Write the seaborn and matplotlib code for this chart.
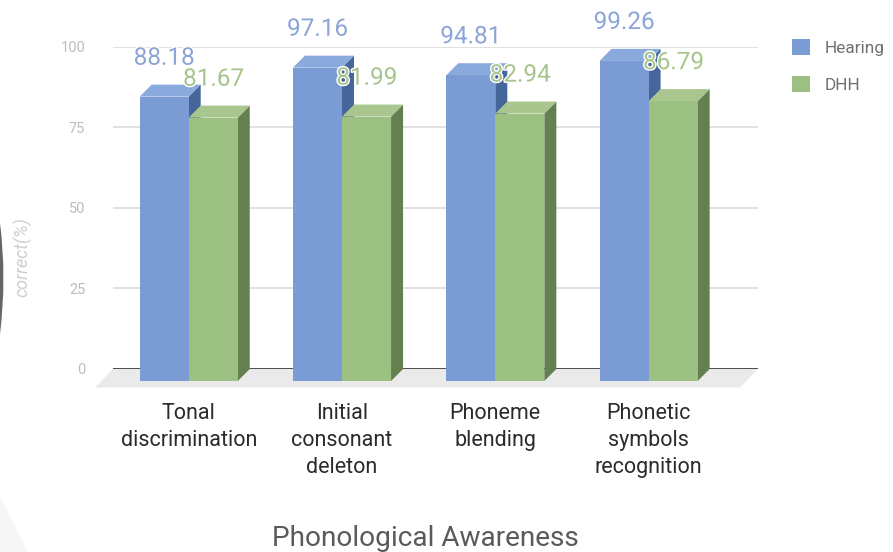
import matplotlib
matplotlib.use("Agg")
import matplotlib.pyplot as plt
import matplotlib.patheffects as pe
from matplotlib.patches import Polygon, Patch, PathPatch
from matplotlib.path import Path
from matplotlib.transforms import Affine2D
import pandas as pd
import seaborn as sns

categories = ["Tonal\ndiscrimination", "Initial\nconsonant\ndeleton",
              "Phoneme\nblending", "Phonetic\nsymbols\nrecognition"]
hearing = [88.18, 97.16, 94.81, 99.26]
dhh = [81.67, 81.99, 82.94, 86.79]
y_ticks = [0, 25, 50, 75, 100]
group_names = ["Hearing", "DHH"]
front_colors = ["#7A9BD3", "#9CC081"]
side_colors = ["#46659B", "#647F50"]
top_colors = ["#8AA9DC", "#A9C68F"]
label_colors = ["#8CA4D6", "#A6C48C"]

W, H = 893, 552
sns.set_theme(style="white")
plt.rcParams["font.family"] = ["Roboto", "DejaVu Sans"]

fig = plt.figure(figsize=(W / 100, H / 100), dpi=100, facecolor="white")
left, right, top, zero = 113, 758, 46.5, 369
ax = fig.add_axes([left / W, 1 - zero / H, (right - left) / W, (zero - top) / H])
ax.patch.set_alpha(0)

df = pd.DataFrame({
    "category": categories * 2,
    "group": [group_names[0]] * 4 + [group_names[1]] * 4,
    "value": hearing + dhh,
})
sns.barplot(data=df, x="category", y="value", hue="group", hue_order=group_names,
            palette=front_colors, width=0.64, gap=0, saturation=1, legend=False,
            edgecolor="none", linewidth=0, ax=ax, zorder=3)

spacing = 153.3
ax.set_xlim((left - 200.7) / spacing, (right - 200.7) / spacing)
ax.set_ylim(0, 100)

# Extrusion depth of the pseudo-3D bars, expressed in data units
px_x = spacing
px_y = (zero - top) / 100
depth_x = 12 / px_x
depth_y = 12 / px_y
shift = Affine2D().translate(-depth_x, -depth_y) + ax.transData

# Floor slab under the bars
ax.add_patch(Polygon([(ax.get_xlim()[0], 0), (ax.get_xlim()[1], 0),
                      (ax.get_xlim()[1] - 18 / px_x, -18.5 / px_y),
                      (ax.get_xlim()[0] - 18 / px_x, -18.5 / px_y)],
                     closed=True, fc="#EAEAEA", ec="none", clip_on=False, zorder=1))

n = len(categories)
for i, bar in enumerate(ax.patches[:2 * n]):
    g = i // n
    x0, w, h = bar.get_x(), bar.get_width(), bar.get_height()
    x1 = x0 + w
    # Slide the front face forward, then add the side and top faces behind it
    bar.set_transform(shift)
    bar.set_clip_on(False)
    bar.set_zorder(5 + g * 2 + 0.5)
    ax.add_patch(Polygon([(x1, 0), (x1, h), (x1 - depth_x, h - depth_y),
                          (x1 - depth_x, -depth_y)],
                         closed=True, fc=side_colors[g], ec="none",
                         clip_on=False, zorder=5 + g * 2))
    ax.add_patch(Polygon([(x0, h), (x1, h), (x1 - depth_x, h - depth_y),
                          (x0 - depth_x, h - depth_y)],
                         closed=True, fc=top_colors[g], ec="none",
                         clip_on=False, zorder=5 + g * 2))

# Value labels, placed above each bar
label_shift = [-8.6, -8.4]
for g, values in enumerate([hearing, dhh]):
    for c, v in enumerate(values):
        bar = ax.patches[g * n + c]
        cx = bar.get_x() + bar.get_width() / 2
        ax.annotate(f"{v:.2f}", (cx, v), xytext=(label_shift[g], 19),
                    textcoords="offset points", ha="center", va="center",
                    fontsize=17.5, color=label_colors[g], zorder=10,
                    annotation_clip=False,
                    path_effects=[pe.withStroke(linewidth=2.0, foreground="white")])

ax.set_yticks(y_ticks)
ax.set_xticks([c - depth_x for c in range(n)])
ax.set_xticklabels(categories)
ax.yaxis.grid(True, color="#DCDCDC", linewidth=1.2, zorder=0)
ax.set_axisbelow(True)
ax.xaxis.grid(False)
for s in ax.spines.values():
    s.set_visible(False)
ax.axhline(0, color="#333333", linewidth=1.2, zorder=2)
ax.tick_params(axis="y", length=0, pad=20, labelsize=10.5, labelcolor="#BDBDBD")
ax.tick_params(axis="x", length=0, pad=24.6, labelsize=15.5, labelcolor="#2B2B2B")
ax.set_xlabel("")
ax.set_ylabel("")
for t in ax.get_xticklabels():
    t.set_linespacing(1.37)

fig.text(23 / W, 1 - 257 / H, "correct(%)", rotation=90, ha="center", va="center",
         fontsize=13, style="italic", color="#CFCFCF")
fig.text(425 / W, 1 - 538.5 / H, "Phonological Awareness", ha="center", va="center",
         fontsize=20.2, color="#5A5A5A")

handles = [Patch(fc=c, ec="none", label=l) for c, l in zip(front_colors, group_names)]
fig.legend(handles=handles, loc="upper left", bbox_to_anchor=(792 / W, 1 - 39 / H),
           frameon=False, fontsize=12.4, labelcolor="#707070", handlelength=1.05,
           handleheight=1.05, handletextpad=0.87, labelspacing=1.16, borderpad=0,
           borderaxespad=0)

# Fragments of the slide artwork at the left edge
edge = Path([(0, 1 - 223 / H), (7 / W, 1 - 278 / H), (0, 1 - 334 / H), (0, 1 - 223 / H)],
            [Path.MOVETO, Path.CURVE3, Path.CURVE3, Path.CLOSEPOLY])
fig.add_artist(PathPatch(edge, fc="#666666", ec="none", transform=fig.transFigure))
fig.add_artist(Polygon([(0, 1 - 497 / H), (28 / W, 0), (0, 0)], closed=True,
                       fc="#F6F6F6", ec="none", transform=fig.transFigure))

fig.savefig("out.png", dpi=100, facecolor="white")
